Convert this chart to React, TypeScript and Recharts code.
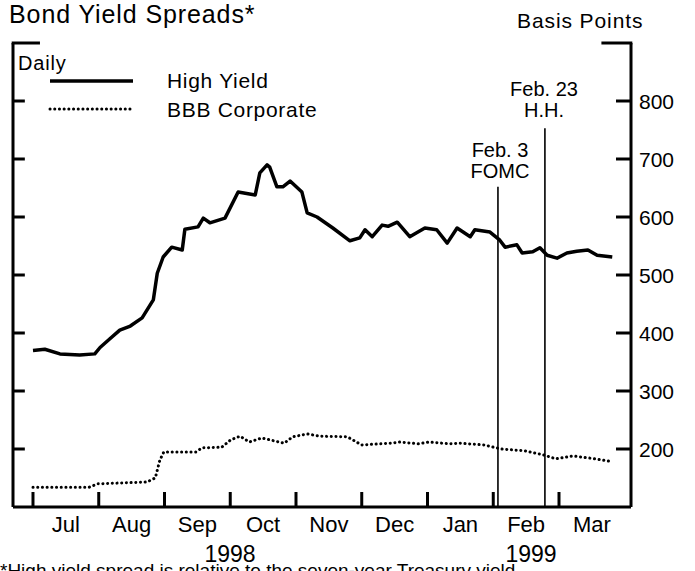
import React from "react"
import { LineChart, Line, XAxis, YAxis, ReferenceLine } from "recharts"

// x positions are in "months since Jul 1998" (each month one unit wide)
const hyMonths = [0.0, 0.18, 0.41, 0.71, 0.94, 1.02, 1.17, 1.32, 1.48, 1.66, 1.83, 1.89, 1.98, 2.11, 2.27, 2.31, 2.51, 2.59, 2.69, 2.92, 3.12, 3.38, 3.45, 3.56, 3.6, 3.71, 3.8, 3.91, 4.09, 4.17, 4.32, 4.56, 4.82, 4.97, 5.05, 5.16, 5.31, 5.4, 5.54, 5.73, 5.96, 6.14, 6.3, 6.45, 6.65, 6.72, 6.95, 7.1, 7.18, 7.36, 7.44, 7.6, 7.71, 7.82, 7.97, 8.12, 8.27, 8.44, 8.58, 8.81]
const hyValues = [370, 372, 364, 362, 364, 375, 390, 405, 412, 426, 457, 503, 531, 548, 543, 579, 583, 598, 590, 598, 643, 638, 676, 690, 686, 652, 652, 662, 643, 607, 600, 581, 559, 564, 578, 566, 586, 584, 591, 566, 581, 578, 555, 581, 566, 578, 574, 560, 548, 552, 538, 540, 547, 534, 529, 538, 541, 543, 534, 531]

const bbbMonths = [0.0, 0.85, 0.99, 1.73, 1.86, 1.93, 1.99, 2.48, 2.57, 2.87, 3.01, 3.15, 3.29, 3.48, 3.82, 3.95, 4.17, 4.37, 4.78, 5.0, 5.44, 5.58, 5.86, 6.02, 6.33, 6.49, 6.86, 7.12, 7.47, 7.76, 7.95, 8.21, 8.49, 8.76]
const bbbValues = [134, 134, 140, 143, 150, 181, 195, 195, 202, 203, 216, 222, 212, 219, 210, 221, 226, 222, 221, 207, 210, 212, 209, 212, 209, 210, 207, 200, 197, 190, 183, 188, 184, 179]

const monthStarts = [0, 1, 2, 3, 4, 5, 6, 7, 8]
const monthMids = [0.5, 1.5, 2.5, 3.5, 4.5, 5.5, 6.5, 7.5, 8.5]
const monthLabels = ["Jul", "Aug", "Sep", "Oct", "Nov", "Dec", "Jan", "Feb", "Mar"]
const yTicks = [200, 300, 400, 500, 600, 700, 800]

const fomcDay = 7 + 2 / 28
const hhDay = 7 + 22 / 28

const xMin = -0.304
const xMax = 9.095

const hyData = hyMonths.map((m, i) => ({ m, v: hyValues[i] }))
const bbbData = bbbMonths.map((m, i) => ({ m, v: bbbValues[i] }))
const xTicks = [...monthStarts, ...monthMids].sort((a, b) => a - b)

const FONT = "'Liberation Sans', Arial, Helvetica, sans-serif"

const MonthTick = (props: any) => {
    const v = props.payload.value
    if (monthStarts.includes(v)) {
        return <line x1={props.x} y1={props.y} x2={props.x} y2={props.y - 15} stroke="#000" strokeWidth={3} />
    }
    return (
        <text x={props.x} y={props.y + 9} dy="0.71em" textAnchor="middle" fontSize={22} fontFamily={FONT} fill="#000">
            {monthLabels[monthMids.indexOf(v)]}
        </text>
    )
}

const RightTick = (props: any) => (
    <g>
        <line x1={props.x - 15} y1={props.y} x2={props.x} y2={props.y} stroke="#000" strokeWidth={3} />
        <text x={props.x + 8} y={props.y} dy="0.36em" fontSize={21} fontFamily={FONT} fill="#000">
            {props.payload.value}
        </text>
    </g>
)

const App: React.FC = () => {
    return (
        <div style={{ position: "absolute", left: 0, top: 0, width: 695, height: 571, overflow: "hidden", background: "#fff" }}>
            <LineChart width={695} height={571} data={hyData} margin={{ top: 43, right: 0, bottom: 0, left: 0 }}>
                <XAxis xAxisId="months" dataKey="m" type="number" domain={[xMin, xMax]} ticks={xTicks}
                    height={64} tickSize={0} tickMargin={0} axisLine={{ stroke: "#000", strokeWidth: 3 }}
                    tickLine={false} tick={<MonthTick />} interval={0} allowDataOverflow />
                <YAxis yAxisId="leftAxis" orientation="left" width={13} domain={[100, 900]} ticks={yTicks}
                    axisLine={{ stroke: "#000", strokeWidth: 3 }} tickLine={false} tick={false} />
                <YAxis yAxisId="bp" orientation="right" width={64} domain={[100, 900]} ticks={yTicks}
                    tickSize={0} tickMargin={0} axisLine={{ stroke: "#000", strokeWidth: 3 }}
                    tickLine={false} tick={<RightTick />} interval={0} allowDataOverflow />
                {yTicks.map((t) => (
                    <ReferenceLine key={t} xAxisId="months" yAxisId="bp" ifOverflow="visible"
                        segment={[{ x: xMin, y: t }, { x: xMin + 0.18, y: t }]} stroke="#000" strokeWidth={3} />
                ))}
                <ReferenceLine xAxisId="months" yAxisId="bp" ifOverflow="visible"
                    segment={[{ x: xMin - 0.02, y: 900 }, { x: xMin + 0.41, y: 900 }]} stroke="#000" strokeWidth={3} />
                <ReferenceLine xAxisId="months" yAxisId="bp" ifOverflow="visible"
                    segment={[{ x: xMax - 0.45, y: 900 }, { x: xMax + 0.02, y: 900 }]} stroke="#000" strokeWidth={3} />
                <ReferenceLine xAxisId="months" yAxisId="bp" segment={[{ x: fomcDay, y: 100 }, { x: fomcDay, y: 652 }]}
                    stroke="#000" strokeWidth={1.6} />
                <ReferenceLine xAxisId="months" yAxisId="bp" segment={[{ x: hhDay, y: 100 }, { x: hhDay, y: 753 }]}
                    stroke="#000" strokeWidth={1.6} />
                <Line xAxisId="months" yAxisId="bp" data={hyData} dataKey="v" type="linear" stroke="#000" strokeWidth={3.5}
                    strokeLinejoin="round" dot={false} isAnimationActive={false} />
                <Line xAxisId="months" yAxisId="bp" data={bbbData} dataKey="v" type="linear" stroke="#000" strokeWidth={3}
                    strokeDasharray="0.1 4.6" strokeLinecap="round" dot={false} isAnimationActive={false} />
            </LineChart>
            <svg width={695} height={571} style={{ position: "absolute", left: 0, top: 0, pointerEvents: "none" }}
                fontFamily={FONT} fill="#000">
                <text x={9} y={23} fontSize={25} letterSpacing={0.9}>Bond Yield Spreads*</text>
                <text x={517} y={28} fontSize={21} letterSpacing={0.9}>Basis Points</text>
                <text x={18} y={70} fontSize={20} letterSpacing={0.8}>Daily</text>
                <line x1={50} y1={81} x2={133} y2={81} stroke="#000" strokeWidth={3.5} />
                <text x={167} y={88} fontSize={21} letterSpacing={0.7}>High Yield</text>
                <line x1={50} y1={109} x2={133} y2={109} stroke="#000" strokeWidth={3}
                    strokeDasharray="0.1 4.6" strokeLinecap="round" />
                <text x={167} y={117} fontSize={21} letterSpacing={0.7}>BBB Corporate</text>
                <text x={544} y={96} fontSize={20} textAnchor="middle">Feb. 23</text>
                <text x={544} y={117} fontSize={20} textAnchor="middle">H.H.</text>
                <text x={500} y={157} fontSize={20} textAnchor="middle">Feb. 3</text>
                <text x={500} y={178} fontSize={20} textAnchor="middle">FOMC</text>
                <text x={230} y={562} fontSize={23} textAnchor="middle">1998</text>
                <text x={531} y={562} fontSize={23} textAnchor="middle">1999</text>
                <text x={0} y={577} fontSize={19}>*High yield spread is relative to the seven-year Treasury yield.</text>
            </svg>
        </div>
    )
}

export default App
